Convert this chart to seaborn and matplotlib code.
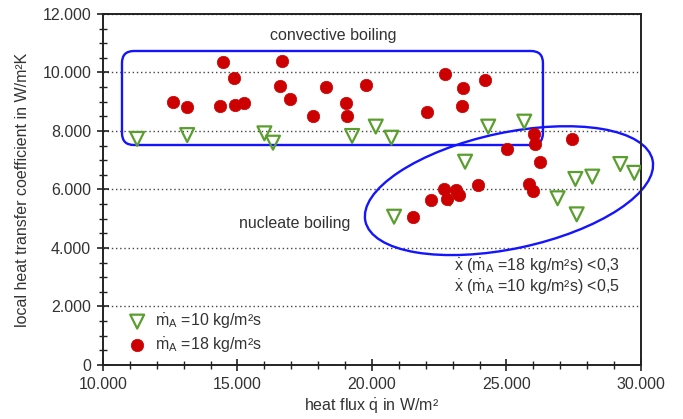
import numpy as np
import pandas as pd
import matplotlib
matplotlib.use("Agg")
import matplotlib.pyplot as plt
import seaborn as sns
from matplotlib.patches import Ellipse, FancyBboxPatch
from matplotlib.transforms import ScaledTranslation
from matplotlib.ticker import MultipleLocator, FuncFormatter

# ---- data ----
q_10 = [11270, 13130, 16000, 16320, 19260, 20140, 20720, 24320, 25660,
        23460, 22900, 20820, 26900, 27560, 28190, 29230, 29750, 27610]
alpha_10 = [7730, 7860, 7920, 7600, 7830, 8150, 7770, 8150, 8320,
            6950, 5690, 5070, 5700, 6360, 6440, 6870, 6570, 5150]

q_18 = [12610, 13130, 14450, 14870, 14360, 14900, 15230, 16660, 16590, 16960,
        17790, 18280, 19020, 19060, 19770, 22720, 23380, 24190, 23330, 22040,
        26030, 26060, 27420, 25010, 26230, 23950, 22680, 23120, 23240, 22780,
        22190, 21530, 25840, 25970]
alpha_18 = [8980, 8830, 10360, 9800, 8870, 8900, 8970, 10380, 9530, 9080,
            8510, 9490, 8970, 8510, 9560, 9950, 9470, 9740, 8840, 8660,
            7890, 7550, 7740, 7380, 6930, 6140, 6020, 5980, 5800, 5670,
            5640, 5060, 6190, 5950]

label_10 = r"$\dot{\mathrm{m}}_\mathrm{A}$ =10 kg/m²s"
label_18 = r"$\dot{\mathrm{m}}_\mathrm{A}$ =18 kg/m²s"
note_1 = r"$\dot{\mathrm{x}}$ ($\dot{\mathrm{m}}_\mathrm{A}$ =18 kg/m²s) <0,3"
note_2 = r"$\dot{\mathrm{x}}$ ($\dot{\mathrm{m}}_\mathrm{A}$ =10 kg/m²s) <0,5"
region_1 = "convective boiling"
region_2 = "nucleate boiling"
x_label = r"heat flux $\dot{\mathrm{q}}$ in W/m²"
y_label = "local heat transfer coefficient in W/m²K"

df10 = pd.DataFrame({"q": q_10, "alpha": alpha_10})
df18 = pd.DataFrame({"q": q_18, "alpha": alpha_18})

# ---- style ----
sns.set_style("ticks")
plt.rcParams["font.family"] = ["Liberation Sans", "DejaVu Sans"]
plt.rcParams["mathtext.fontset"] = "custom"
plt.rcParams["mathtext.rm"] = "Liberation Sans"
plt.rcParams["mathtext.it"] = "Liberation Sans:italic"
plt.rcParams["mathtext.bf"] = "Liberation Sans:bold"

TXT = "#333333"
RED = "#cc0000"
GREEN = "#5a9e2e"
BLUE = "#1414ff"

fig = plt.figure(figsize=(6.83, 4.19), dpi=100)
ax = fig.add_axes([0.1508, 0.1289, 0.7877, 0.8377])

sns.scatterplot(data=df10, x="q", y="alpha", ax=ax, marker="v", s=100,
                facecolors="none", edgecolor=GREEN, linewidth=1.6,
                label=label_10, zorder=3)
sns.scatterplot(data=df18, x="q", y="alpha", ax=ax, marker="o", s=80,
                color=RED, edgecolor=RED, linewidth=0.5,
                label=label_18, zorder=3)

# annotation shapes
rect = FancyBboxPatch((10706, 7521), 26355 - 10706, 10735 - 7521,
                      boxstyle="round,pad=0,rounding_size=446",
                      mutation_aspect=0.92, fill=False, ec=BLUE, lw=1.7,
                      zorder=2)
ax.add_patch(rect)
ell = Ellipse((0, 0), width=2.936, height=1.16, angle=12.0, fill=False,
              ec=BLUE, lw=1.7, zorder=2, clip_on=False,
              transform=fig.dpi_scale_trans + ScaledTranslation(25092, 5960, ax.transData))
ax.add_patch(ell)

ax.text(18550, 11280, region_1, ha="center", va="center", fontsize=11.5, color=TXT, zorder=5)
ax.text(17140, 4850, region_2, ha="center", va="center", fontsize=11.5, color=TXT, zorder=5)
ax.text(29220, 3380, note_1, ha="right", va="center", fontsize=11.5, color=TXT, zorder=5)
ax.text(29220, 2640, note_2, ha="right", va="center", fontsize=11.5, color=TXT, zorder=5)

ax.set_xlim(10000, 30000)
ax.set_ylim(0, 12000)
ax.xaxis.set_major_locator(MultipleLocator(5000))
ax.xaxis.set_minor_locator(MultipleLocator(1000))
ax.yaxis.set_major_locator(MultipleLocator(2000))
ax.yaxis.set_minor_locator(MultipleLocator(500))
fmt = FuncFormatter(lambda v, p: f"{int(round(v)):,}".replace(",", "."))
ax.xaxis.set_major_formatter(fmt)
ax.yaxis.set_major_formatter(fmt)

ax.tick_params(which="major", direction="inout", length=9, width=1.2,
               color="#222222", labelsize=11.5, labelcolor=TXT, pad=4)
ax.tick_params(which="minor", direction="inout", length=6, width=1.0,
               color="#222222")

ax.yaxis.grid(True, which="major", linestyle=(0, (1, 2)), color="#444444", lw=1.0)
ax.xaxis.grid(False)
ax.set_axisbelow(True)

for s in ax.spines.values():
    s.set_visible(True)
    s.set_color("#222222")
    s.set_linewidth(1.4)

ax.set_xlabel(x_label, fontsize=11.5, color=TXT, labelpad=4)
ax.set_ylabel(y_label, fontsize=11.5, color=TXT, labelpad=9)

ax.legend(loc="upper left", bbox_to_anchor=(0.022, 0.17), frameon=False,
          fontsize=11.5, handletextpad=0.1, labelspacing=0.3, borderaxespad=0,
          labelcolor=TXT)

fig.savefig("out.png", dpi=100)
